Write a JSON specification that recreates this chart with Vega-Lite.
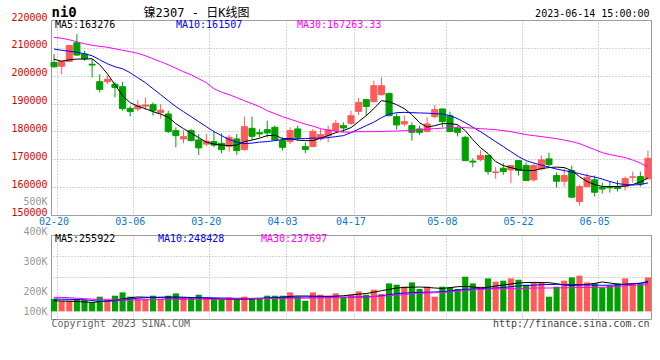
{
"$schema": "https://vega.github.io/schema/vega-lite/v6.json",
"background": "#ffffff",
"padding": {"left": 10, "top": 4, "right": 10, "bottom": 30},
"config": {
"font": "DejaVu Sans Mono",
"view": {"stroke": "#999999", "strokeWidth": 1},
"axis": {"labelFont": "DejaVu Sans Mono", "labelFontSize": 10, "titleFont": "DejaVu Sans Mono", "titleFontWeight": "normal", "ticks": false, "domain": false, "gridColor": "#aaaaaa", "gridDash": [1, 2], "gridOpacity": 1, "gridWidth": 1},
"legend": {"labelFont": "DejaVu Sans Mono", "labelFontSize": 10}
},
"datasets": {"k": [
{"d":"02-20","o":204760,"h":207770,"l":202760,"c":203220,"v":164200,"m5":205910,"m10":209570,"m30":213800,"vm5":155400,"vm10":164200,"vm30":172500},
{"d":"02-21","o":203400,"h":205370,"l":200530,"c":205190,"v":155400,"m5":205190,"m10":209140,"m30":213440,"vm5":153900,"vm10":163200,"vm30":172500},
{"d":"02-22","o":205120,"h":210860,"l":205010,"c":210860,"v":155400,"m5":205730,"m10":208780,"m30":212900,"vm5":152800,"vm10":162200,"vm30":171000},
{"d":"02-23","o":211820,"h":214940,"l":207160,"c":207420,"v":164200,"m5":205980,"m10":208420,"m30":212180,"vm5":151800,"vm10":161100,"vm30":168400},
{"d":"02-24","o":207770,"h":208960,"l":205370,"c":206090,"v":159100,"m5":205980,"m10":207880,"m30":211470,"vm5":148700,"vm10":160600,"vm30":165800},
{"d":"02-27","o":204120,"h":205980,"l":199390,"c":203830,"v":146600,"m5":206090,"m10":207170,"m30":210930,"vm5":146600,"vm10":156500,"vm30":163200},
{"d":"02-28","o":197850,"h":200530,"l":194010,"c":195090,"v":176200,"m5":203940,"m10":205730,"m30":210570,"vm5":150300,"vm10":151300,"vm30":160600},
{"d":"03-01","o":197850,"h":200000,"l":197020,"c":198740,"v":155400,"m5":200710,"m10":204300,"m30":210210,"vm5":155400,"vm10":152800,"vm30":160600},
{"d":"03-02","o":196950,"h":197600,"l":192220,"c":195800,"v":181300,"m5":196770,"m10":203220,"m30":209670,"vm5":159100,"vm10":154400,"vm30":159600},
{"d":"03-03","o":196050,"h":197850,"l":187450,"c":188170,"v":198400,"m5":192830,"m10":202510,"m30":209140,"vm5":164200,"vm10":157000,"vm30":159100},
{"d":"03-06","o":188280,"h":189070,"l":185370,"c":187100,"v":176200,"m5":190320,"m10":201070,"m30":208600,"vm5":171000,"vm10":163200,"vm30":159100},
{"d":"03-07","o":188100,"h":191220,"l":187270,"c":189250,"v":164200,"m5":189070,"m10":199280,"m30":208060,"vm5":174600,"vm10":168400,"vm30":159100},
{"d":"03-08","o":189070,"h":192220,"l":187630,"c":189500,"v":164200,"m5":188170,"m10":197490,"m30":207170,"vm5":173600,"vm10":171000,"vm30":159600},
{"d":"03-09","o":189600,"h":190430,"l":185660,"c":187450,"v":181300,"m5":187100,"m10":195340,"m30":206090,"vm5":172500,"vm10":172000,"vm30":160100},
{"d":"03-10","o":186740,"h":189780,"l":184590,"c":187630,"v":164200,"m5":186200,"m10":193190,"m30":205020,"vm5":173600,"vm10":171000,"vm30":160600},
{"d":"03-13","o":186270,"h":187450,"l":179460,"c":179930,"v":181300,"m5":185120,"m10":191040,"m30":203940,"vm5":174600,"vm10":169900,"vm30":160600},
{"d":"03-14","o":180290,"h":181470,"l":174300,"c":178490,"v":193300,"m5":182790,"m10":188890,"m30":202690,"vm5":174600,"vm10":169400,"vm30":161100},
{"d":"03-15","o":177310,"h":180460,"l":175730,"c":178130,"v":172500,"m5":181000,"m10":187100,"m30":201430,"vm5":173600,"vm10":169900,"vm30":161700},
{"d":"03-16","o":180290,"h":180890,"l":176450,"c":176700,"v":169400,"m5":179390,"m10":185300,"m30":200360,"vm5":172000,"vm10":170500,"vm30":162200},
{"d":"03-17","o":176950,"h":179100,"l":171580,"c":174090,"v":186500,"m5":177780,"m10":183510,"m30":198920,"vm5":171000,"vm10":171000,"vm30":162200},
{"d":"03-20","o":175450,"h":179210,"l":174730,"c":176520,"v":169400,"m5":176160,"m10":181720,"m30":197490,"vm5":169400,"vm10":171000,"vm30":162700},
{"d":"03-21","o":176340,"h":180290,"l":174300,"c":175090,"v":164200,"m5":175450,"m10":179930,"m30":195340,"vm5":166800,"vm10":169900,"vm30":163200},
{"d":"03-22","o":175730,"h":179320,"l":172150,"c":173480,"v":164200,"m5":175090,"m10":178490,"m30":194080,"vm5":164200,"vm10":169400,"vm30":163200},
{"d":"03-23","o":174660,"h":178740,"l":172760,"c":177880,"v":172500,"m5":174910,"m10":177060,"m30":193190,"vm5":162200,"vm10":168400,"vm30":163700},
{"d":"03-24","o":177310,"h":179100,"l":171580,"c":173120,"v":164200,"m5":175090,"m10":176160,"m30":192110,"vm5":162200,"vm10":167900,"vm30":164200},
{"d":"03-27","o":173480,"h":185300,"l":173120,"c":181720,"v":176200,"m5":176340,"m10":175630,"m30":191040,"vm5":163200,"vm10":167400,"vm30":164800},
{"d":"03-28","o":181110,"h":185300,"l":176950,"c":178240,"v":169400,"m5":176880,"m10":175810,"m30":189960,"vm5":164200,"vm10":167400,"vm30":165300},
{"d":"03-29","o":179570,"h":180890,"l":177880,"c":179100,"v":169400,"m5":177600,"m10":176160,"m30":188890,"vm5":165800,"vm10":168400,"vm30":165800},
{"d":"03-30","o":180640,"h":183870,"l":177880,"c":179460,"v":181300,"m5":178490,"m10":176340,"m30":187450,"vm5":168400,"vm10":169900,"vm30":166300},
{"d":"03-31","o":181470,"h":182080,"l":176700,"c":176950,"v":181300,"m5":178670,"m10":176700,"m30":186380,"vm5":171000,"vm10":171000,"vm30":166800},
{"d":"04-03","o":176700,"h":177880,"l":173120,"c":174300,"v":181300,"m5":177420,"m10":177060,"m30":185300,"vm5":173600,"vm10":172000,"vm30":167400},
{"d":"04-04","o":176340,"h":181470,"l":175520,"c":180290,"v":198400,"m5":177420,"m10":177240,"m30":184410,"vm5":177700,"vm10":173100,"vm30":167900},
{"d":"04-06","o":180890,"h":182080,"l":176700,"c":177880,"v":176200,"m5":176880,"m10":177420,"m30":183510,"vm5":179800,"vm10":174100,"vm30":168400},
{"d":"04-07","o":174550,"h":176090,"l":172150,"c":173480,"v":155400,"m5":176700,"m10":177420,"m30":182620,"vm5":179800,"vm10":174600,"vm30":168900},
{"d":"04-10","o":174550,"h":180890,"l":174550,"c":180030,"v":198400,"m5":176700,"m10":177600,"m30":181900,"vm5":178800,"vm10":174600,"vm30":169400},
{"d":"04-11","o":177310,"h":180890,"l":176700,"c":178850,"v":186500,"m5":177600,"m10":177600,"m30":181000,"vm5":178200,"vm10":174600,"vm30":169900},
{"d":"04-12","o":178490,"h":182080,"l":176090,"c":180540,"v":181300,"m5":178490,"m10":177780,"m30":180460,"vm5":177700,"vm10":174600,"vm30":171000},
{"d":"04-13","o":180290,"h":184120,"l":179680,"c":182900,"v":193300,"m5":179570,"m10":178140,"m30":180110,"vm5":178800,"vm10":173600,"vm30":171500},
{"d":"04-14","o":182080,"h":183260,"l":179680,"c":181250,"v":176200,"m5":180290,"m10":178490,"m30":179750,"vm5":181300,"vm10":173100,"vm30":172500},
{"d":"04-17","o":182900,"h":187450,"l":182330,"c":185660,"v":186500,"m5":181360,"m10":179570,"m30":179750,"vm5":185000,"vm10":173600,"vm30":172500},
{"d":"04-18","o":187200,"h":192000,"l":185910,"c":190430,"v":203600,"m5":183510,"m10":180820,"m30":179930,"vm5":189100,"vm10":174600,"vm30":173600},
{"d":"04-19","o":191400,"h":191650,"l":185660,"c":188990,"v":186500,"m5":185660,"m10":182080,"m30":179930,"vm5":192700,"vm10":175600,"vm30":175100},
{"d":"04-20","o":190680,"h":198200,"l":190430,"c":196410,"v":212400,"m5":188170,"m10":183330,"m30":179930,"vm5":199500,"vm10":177200,"vm30":176700},
{"d":"04-21","o":193190,"h":199390,"l":192830,"c":196410,"v":190100,"m5":191040,"m10":184940,"m30":179930,"vm5":207200,"vm10":181300,"vm30":178800},
{"d":"04-24","o":193650,"h":193900,"l":185410,"c":185660,"v":245100,"m5":190680,"m10":186200,"m30":180110,"vm5":214000,"vm10":186500,"vm30":181300},
{"d":"04-25","o":185300,"h":186490,"l":180640,"c":182330,"v":238300,"m5":189600,"m10":186740,"m30":180110,"vm5":221200,"vm10":191700,"vm30":183900},
{"d":"04-26","o":182690,"h":185660,"l":181830,"c":183510,"v":228000,"m5":188170,"m10":186840,"m30":180290,"vm5":224300,"vm10":195300,"vm30":186500},
{"d":"04-27","o":182080,"h":183260,"l":176700,"c":179680,"v":250200,"m5":186020,"m10":186740,"m30":180290,"vm5":225400,"vm10":196900,"vm30":190100},
{"d":"04-28","o":180890,"h":182080,"l":178740,"c":179680,"v":216100,"m5":183150,"m10":186630,"m30":180640,"vm5":226400,"vm10":198400,"vm30":193300},
{"d":"05-04","o":179930,"h":185050,"l":179680,"c":182690,"v":228000,"m5":181540,"m10":186560,"m30":180820,"vm5":224300,"vm10":199500,"vm30":195300},
{"d":"05-05","o":185300,"h":189500,"l":184690,"c":187810,"v":176200,"m5":182080,"m10":186380,"m30":181000,"vm5":221200,"vm10":200500,"vm30":196900},
{"d":"05-08","o":188060,"h":188170,"l":181470,"c":183510,"v":228000,"m5":182790,"m10":186270,"m30":181180,"vm5":219200,"vm10":202100,"vm30":198400},
{"d":"05-09","o":185660,"h":187100,"l":179930,"c":179930,"v":224300,"m5":182790,"m10":185660,"m30":181360,"vm5":222800,"vm10":205700,"vm30":200500},
{"d":"05-10","o":181110,"h":182080,"l":178240,"c":179680,"v":216100,"m5":182440,"m10":184590,"m30":181540,"vm5":228000,"vm10":210900,"vm30":203600},
{"d":"05-11","o":177880,"h":178490,"l":169530,"c":169530,"v":279800,"m5":180290,"m10":183150,"m30":181360,"vm5":229500,"vm10":214000,"vm30":207200},
{"d":"05-12","o":169350,"h":170360,"l":167130,"c":169000,"v":245100,"m5":177060,"m10":181540,"m30":181180,"vm5":226400,"vm10":216100,"vm30":210900},
{"d":"05-15","o":169890,"h":173120,"l":169280,"c":171330,"v":228000,"m5":174190,"m10":179930,"m30":181000,"vm5":221800,"vm10":217600,"vm30":214500},
{"d":"05-16","o":171330,"h":171330,"l":164410,"c":165590,"v":271000,"m5":172040,"m10":178140,"m30":180820,"vm5":225400,"vm10":219200,"vm30":216100},
{"d":"05-17","o":165230,"h":167130,"l":162970,"c":165480,"v":253900,"m5":169180,"m10":176340,"m30":180640,"vm5":231600,"vm10":221200,"vm30":217100},
{"d":"05-18","o":166770,"h":168570,"l":164410,"c":165590,"v":259100,"m5":167740,"m10":174550,"m30":180290,"vm5":236800,"vm10":223800,"vm30":217600},
{"d":"05-19","o":166200,"h":167740,"l":161400,"c":167740,"v":271000,"m5":167020,"m10":172760,"m30":179930,"vm5":242000,"vm10":228000,"vm30":217600},
{"d":"05-22","o":169530,"h":169530,"l":164160,"c":165950,"v":264200,"m5":166310,"m10":170970,"m30":179390,"vm5":247100,"vm10":232100,"vm30":217600},
{"d":"05-23","o":167740,"h":168920,"l":162370,"c":162370,"v":238300,"m5":165950,"m10":169530,"m30":178850,"vm5":249700,"vm10":234200,"vm30":219200},
{"d":"05-24","o":162620,"h":168380,"l":162000,"c":167740,"v":250200,"m5":165950,"m10":168640,"m30":178490,"vm5":250200,"vm10":235700,"vm30":221200},
{"d":"05-25","o":166560,"h":171330,"l":165950,"c":169780,"v":250200,"m5":166670,"m10":167920,"m30":178140,"vm5":249700,"vm10":238300,"vm30":221200},
{"d":"05-26","o":170140,"h":172400,"l":167380,"c":168100,"v":176200,"m5":167020,"m10":167200,"m30":177780,"vm5":248700,"vm10":239400,"vm30":221200},
{"d":"05-29","o":164160,"h":165230,"l":159860,"c":162110,"v":228000,"m5":167200,"m10":166490,"m30":177420,"vm5":243500,"vm10":239900,"vm30":221800},
{"d":"05-30","o":162110,"h":166670,"l":160220,"c":164160,"v":259100,"m5":167020,"m10":165950,"m30":176880,"vm5":236800,"vm10":239400,"vm30":222300},
{"d":"05-31","o":165950,"h":167740,"l":156270,"c":156380,"v":276200,"m5":165950,"m10":165410,"m30":176340,"vm5":234700,"vm10":238900,"vm30":222800},
{"d":"06-01","o":154840,"h":160930,"l":153410,"c":160220,"v":285000,"m5":163800,"m10":164870,"m30":175630,"vm5":236800,"vm10":238300,"vm30":223800},
{"d":"06-02","o":160220,"h":164870,"l":159860,"c":163550,"v":250200,"m5":162010,"m10":164160,"m30":174550,"vm5":239900,"vm10":237300,"vm30":224300},
{"d":"06-05","o":162620,"h":164160,"l":156630,"c":158170,"v":245100,"m5":160930,"m10":163620,"m30":173480,"vm5":245100,"vm10":236300,"vm30":224300},
{"d":"06-06","o":159960,"h":161650,"l":157700,"c":159320,"v":224300,"m5":160220,"m10":162900,"m30":172400,"vm5":252300,"vm10":235200,"vm30":224900},
{"d":"06-07","o":160040,"h":162010,"l":158060,"c":159750,"v":233200,"m5":160220,"m10":162010,"m30":171680,"vm5":247100,"vm10":235500,"vm30":226900},
{"d":"06-08","o":160220,"h":162370,"l":158420,"c":159500,"v":245100,"m5":160220,"m10":161290,"m30":171150,"vm5":240900,"vm10":237500,"vm30":229000},
{"d":"06-09","o":160220,"h":163790,"l":158780,"c":163080,"v":271000,"m5":160390,"m10":160930,"m30":170610,"vm5":239900,"vm10":240500,"vm30":233200},
{"d":"06-12","o":163550,"h":165590,"l":161650,"c":163690,"v":245100,"m5":160930,"m10":160750,"m30":169710,"vm5":242500,"vm10":243500,"vm30":235500},
{"d":"06-13","o":163790,"h":165590,"l":160220,"c":161180,"v":242000,"m5":161830,"m10":160930,"m30":168640,"vm5":245100,"vm10":246000,"vm30":236800},
{"d":"06-14","o":162970,"h":173120,"l":162900,"c":170360,"v":276200,"m5":163276,"m10":161507,"m30":167263.33,"vm5":255922,"vm10":248428,"vm30":237697}
]},
"spacing": 20,
"bounds": "flush",
"resolve": {"scale": {"color": "independent"}, "legend": {"color": "independent"}},
"vconcat": [
{
"width": 600, "height": 195,
"data": {"name": "k"},
"resolve": {"axis": {"x": "independent", "y": "independent"}},
"layer": [
{
"mark": {"type": "rule", "strokeWidth": 1},
"encoding": {
"x": {"field": "d", "type": "ordinal", "sort": null, "scale": {"paddingInner": 0.2, "paddingOuter": 0},
"axis": {"orient": "bottom", "values": ["02-20","03-06","03-20","04-03","04-17","05-08","05-22","06-05"], "bandPosition": 1.1, "grid": true, "labelAngle": 0, "labelColor": "#0a78d2", "labelPadding": 1,
"title": "500K", "titleX": -4, "titleY": -13.8, "titleAlign": "right", "titleBaseline": "middle", "titleFontSize": 10, "titleColor": "#999999"}},
"y": {"field": "l", "type": "quantitative", "scale": {"domain": [150000, 220000], "nice": false, "zero": false},
"axis": {"orient": "left", "values": [150000,160000,170000,180000,190000,200000,210000,220000], "format": "d", "grid": true, "labelColor": "#e00000", "labelPadding": 4, "labelBaseline": "middle", "labelOffset": -3,
"title": "ni0", "titleAngle": 0, "titleX": 0, "titleY": -4, "titleAlign": "left", "titleBaseline": "alphabetic", "titleFontSize": 14, "titleFontWeight": "bold", "titleColor": "#000000"}},
"y2": {"field": "h"},
"color": {"condition": {"test": "datum.c >= datum.o", "value": "#ff5a5a"}, "value": "#00a000"}
}
},
{
"mark": {"type": "bar", "strokeWidth": 1},
"encoding": {
"x": {"field": "d", "type": "ordinal", "sort": null,
"axis": {"orient": "top", "labels": false, "grid": false, "title": "镍2307 - 日K线图", "titleX": 145, "titleY": -4, "titleAlign": "center", "titleBaseline": "alphabetic", "titleFont": "DejaVu Sans Mono, Noto Sans CJK SC", "titleFontSize": 12, "titleColor": "#000000"}},
"y": {"field": "o", "type": "quantitative",
"axis": {"orient": "right", "labels": false, "grid": false, "title": "2023-06-14 15:00:00", "titleAngle": 0, "titleX": -2, "titleY": -4, "titleAlign": "right", "titleBaseline": "alphabetic", "titleFontSize": 10, "titleColor": "#000000"}},
"y2": {"field": "c"},
"color": {"condition": {"test": "datum.c >= datum.o", "value": "#ff5a5a"}, "value": "#00a000"},
"stroke": {"condition": {"test": "datum.c >= datum.o", "value": "#ff5a5a"}, "value": "#00a000"}
}
},
{
"transform": [{"fold": ["m5", "m10", "m30"], "as": ["s", "p"]}],
"mark": {"type": "line", "strokeWidth": 1},
"encoding": {
"x": {"field": "d", "type": "ordinal", "sort": null, "axis": null},
"y": {"field": "p", "type": "quantitative", "axis": null},
"color": {"field": "s", "type": "nominal", "scale": {"domain": ["m5", "m10", "m30"], "range": ["#000000", "#0000ff", "#ff00ff"]},
"legend": {"orient": "none", "legendX": -6, "legendY": 0, "direction": "horizontal", "columns": 3, "gridAlign": "all", "columnPadding": 26, "title": null, "symbolSize": 0, "symbolStrokeWidth": 0, "symbolOpacity": 0, "labelOffset": 0,
"labelExpr": "datum.value == 'm5' ? 'MA5:163276' : datum.value == 'm10' ? 'MA10:161507' : 'MA30:167263.33'",
"encode": {"labels": {"update": {"fill": {"signal": "datum.value == 'm5' ? '#000000' : datum.value == 'm10' ? '#0000ff' : '#ff00ff'"}}}}}}
}
}
]
},
{
"width": 600, "height": 84,
"data": {"name": "k"},
"resolve": {"axis": {"x": "independent", "y": "independent"}},
"layer": [
{
"mark": {"type": "bar"},
"encoding": {
"x": {"field": "d", "type": "ordinal", "sort": null, "scale": {"paddingInner": 0.2, "paddingOuter": 0},
"axis": {"orient": "bottom", "values": ["02-20","03-06","03-20","04-03","04-17","05-08","05-22","06-05"], "bandPosition": 1.1, "grid": true, "labels": false,
"title": "Copyright 2023 SINA.COM", "titleX": 0, "titleY": 7, "titleAlign": "left", "titleBaseline": "alphabetic", "titleFontSize": 10, "titleColor": "#666666"}},
"y": {"field": "v", "type": "quantitative", "scale": {"domain": [60600, 495800], "nice": false, "zero": false},
"axis": {"orient": "left", "values": [102044, 204628, 361094], "labelExpr": "datum.value < 150000 ? '100K' : datum.value < 300000 ? '200K' : '300K'", "labelColor": "#999999", "labelPadding": 4, "labelBaseline": "middle", "grid": false, "title": null}},
"y2": {"datum": 100000},
"color": {"condition": {"test": "datum.c >= datum.o", "value": "#ff5a5a"}, "value": "#00a000"}
}
},
{
"transform": [{"fold": ["vm5", "vm10", "vm30"], "as": ["s", "p"]}],
"mark": {"type": "line", "strokeWidth": 1},
"encoding": {
"x": {"field": "d", "type": "ordinal", "sort": null,
"axis": {"orient": "top", "labels": false, "grid": false, "title": "400K", "titleX": -4, "titleY": -4, "titleAlign": "right", "titleBaseline": "middle", "titleFontSize": 10, "titleColor": "#999999"}},
"y": {"field": "p", "type": "quantitative",
"axis": {"orient": "right", "values": [169425, 278226, 387027], "labels": false, "grid": true, "title": "http://finance.sina.com.cn", "titleAngle": 0, "titleX": -2, "titleY": 91, "titleAlign": "right", "titleBaseline": "alphabetic", "titleFontSize": 10, "titleColor": "#444444"}},
"color": {"field": "s", "type": "nominal", "scale": {"domain": ["vm5", "vm10", "vm30"], "range": ["#000000", "#0000ff", "#ff00ff"]},
"legend": {"orient": "none", "legendX": -6, "legendY": -1, "direction": "horizontal", "columns": 3, "gridAlign": "all", "columnPadding": 26, "title": null, "symbolSize": 0, "symbolStrokeWidth": 0, "symbolOpacity": 0, "labelOffset": 0,
"labelExpr": "datum.value == 'vm5' ? 'MA5:255922' : datum.value == 'vm10' ? 'MA10:248428' : 'MA30:237697'",
"encode": {"labels": {"update": {"fill": {"signal": "datum.value == 'vm5' ? '#000000' : datum.value == 'vm10' ? '#0000ff' : '#ff00ff'"}}}}}}
}
}
]
}
]
}
